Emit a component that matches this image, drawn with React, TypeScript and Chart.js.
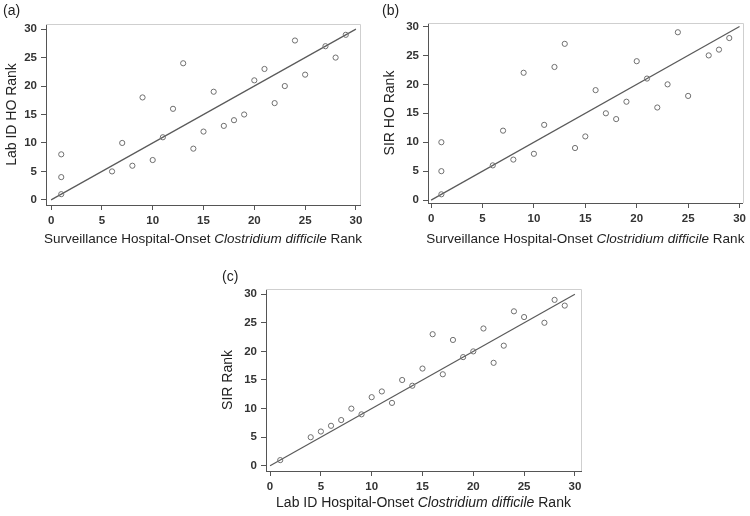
import React, { useEffect, useRef } from "react";
import { Chart, registerables } from "chart.js";

Chart.register(...registerables);

// ---- data ----
const surveillanceRankAB = [1, 1, 1, 6, 7, 8, 9, 10, 11, 12, 13, 14, 15, 16, 17, 18, 19, 20, 21, 22, 23, 24, 25, 27, 28, 29];
const labIdRankA = [1, 4, 8, 5, 10, 6, 18, 7, 11, 16, 24, 9, 12, 19, 13, 14, 15, 21, 23, 17, 20, 28, 22, 27, 25, 29];
const sirHoRankB = [1, 5, 10, 6, 12, 7, 22, 8, 13, 23, 27, 9, 11, 19, 15, 14, 17, 24, 21, 16, 20, 29, 18, 25, 26, 28];
const labIdRankC = [1, 4, 5, 6, 7, 8, 9, 10, 11, 12, 13, 14, 15, 16, 17, 18, 19, 20, 21, 22, 23, 24, 25, 27, 28, 29];
const sirRankC = [1, 5, 6, 7, 8, 10, 9, 12, 13, 11, 15, 14, 17, 23, 16, 22, 19, 20, 24, 18, 21, 27, 26, 25, 29, 28];
const identityLineX = [0, 30];
const axisTicks = [0, 5, 10, 15, 20, 25, 30];

const FONT = '"Liberation Sans", Arial, sans-serif';

type Part = { text: string; italic?: boolean };

const framePlugin = {
  id: "frame",
  afterDraw(chart: any, _args: any, opts: any) {
    const { ctx, chartArea } = chart;
    const { left, top, right, bottom } = chartArea;
    ctx.save();
    ctx.strokeStyle = "#cfcfcf";
    ctx.lineWidth = 1;
    ctx.beginPath();
    ctx.moveTo(left, Math.round(top) + 0.5);
    ctx.lineTo(Math.round(right) + 0.5, Math.round(top) + 0.5);
    ctx.lineTo(Math.round(right) + 0.5, bottom);
    ctx.stroke();

    ctx.fillStyle = "#222";
    ctx.textBaseline = "middle";
    ctx.textAlign = "left";
    ctx.font = `14px ${FONT}`;
    ctx.fillText(opts.label, opts.labelX, opts.labelY);

    const parts: Part[] = opts.titleParts;
    const size = opts.titleSize;
    const fontFor = (p: Part) => `${p.italic ? "italic " : ""}${size}px ${FONT}`;
    let total = 0;
    const widths = parts.map((p) => {
      ctx.font = fontFor(p);
      const w = ctx.measureText(p.text).width;
      total += w;
      return w;
    });
    let x = (left + right) / 2 - total / 2 + (opts.titleShift || 0);
    parts.forEach((p, i) => {
      ctx.font = fontFor(p);
      ctx.fillText(p.text, x, opts.titleY);
      x += widths[i];
    });
    ctx.restore();
  },
};

type PanelProps = {
  left: number;
  top: number;
  width: number;
  height: number;
  xs: number[];
  ys: number[];
  yTitle: string;
  titleParts: Part[];
  label: string;
  labelX: number;
  labelY: number;
  titleY: number;
  titleSize: number;
  yAxisWidth: number;
  padTop: number;
  padRight: number;
  plotBottom: number;
  xRange: [number, number];
  yRange: [number, number];
  yTitlePad: number;
};

function Panel(p: PanelProps) {
  const ref = useRef<HTMLCanvasElement>(null);
  useEffect(() => {
    const points = p.xs.map((x, i) => ({ x, y: p.ys[i] }));
    const line = identityLineX.map((v) => ({ x: v, y: v }));
    const setTicks = (scale: any) => {
      scale.ticks = axisTicks.map((v) => ({ value: v }));
    };
    const chart = new Chart(ref.current as HTMLCanvasElement, {
      type: "scatter",
      data: {
        datasets: [
          {
            type: "line",
            data: line,
            borderColor: "#5a5a5a",
            borderWidth: 1.2,
            pointRadius: 0,
            fill: false,
            order: 1,
          } as any,
          {
            type: "scatter",
            data: points,
            pointRadius: 2.6,
            pointBorderWidth: 1,
            borderColor: "#6f6f6f",
            backgroundColor: "rgba(0,0,0,0)",
            order: 0,
          } as any,
        ],
      },
      options: {
        responsive: false,
        animation: false,
        devicePixelRatio: 1,
        layout: { padding: { top: p.padTop, right: p.padRight, left: 0, bottom: 0 } },
        plugins: {
          legend: { display: false },
          tooltip: { enabled: false },
          frame: {
            label: p.label,
            labelX: p.labelX,
            labelY: p.labelY,
            titleY: p.titleY,
            titleParts: p.titleParts,
            titleSize: p.titleSize,
          },
        } as any,
        scales: {
          x: {
            type: "linear",
            min: p.xRange[0],
            max: p.xRange[1],
            afterBuildTicks: setTicks,
            afterFit: (scale: any) => {
              scale.height = p.height - p.plotBottom;
            },
            grid: { drawOnChartArea: false, drawTicks: true, tickLength: 5, color: "#555" },
            border: { display: true, color: "#555" },
            ticks: { color: "#333", padding: 4, font: { family: FONT, size: 11.5, weight: "bold" } },
          },
          y: {
            type: "linear",
            min: p.yRange[0],
            max: p.yRange[1],
            afterBuildTicks: setTicks,
            afterFit: (scale: any) => {
              scale.width = p.yAxisWidth;
            },
            grid: { drawOnChartArea: false, drawTicks: true, tickLength: 5, color: "#555" },
            border: { display: true, color: "#555" },
            ticks: { color: "#333", padding: 4, font: { family: FONT, size: 11.5, weight: "bold" } },
            title: {
              display: true,
              text: p.yTitle,
              color: "#222",
              font: { family: FONT, size: 14 },
              padding: { top: p.yTitlePad, bottom: 0 },
            },
          },
        },
      },
      plugins: [framePlugin],
    });
    return () => chart.destroy();
  }, []);
  return (
    <canvas
      ref={ref}
      width={p.width}
      height={p.height}
      style={{ position: "absolute", left: p.left, top: p.top, width: p.width, height: p.height }}
    />
  );
}

export default function App() {
  useEffect(() => {
    document.body.style.margin = "0";
    document.body.style.background = "#fff";
  }, []);
  const survTitle: Part[] = [
    { text: "Surveillance Hospital-Onset " },
    { text: "Clostridium difficile", italic: true },
    { text: " Rank" },
  ];
  const labTitle: Part[] = [
    { text: "Lab ID Hospital-Onset " },
    { text: "Clostridium difficile", italic: true },
    { text: " Rank" },
  ];
  return (
    <div style={{ position: "relative", width: 750, height: 516, background: "#fff" }}>
      <Panel
        left={0}
        top={0}
        width={375}
        height={250}
        xs={surveillanceRankAB}
        ys={labIdRankA}
        yTitle="Lab ID HO Rank"
        titleParts={survTitle}
        label="(a)"
        labelX={3}
        labelY={11}
        titleY={239}
        titleSize={13.5}
        yAxisWidth={46}
        padTop={24}
        padRight={15}
        plotBottom={205}
        xRange={[-0.5, 30.4]}
        yRange={[-0.9, 30.9]}
        yTitlePad={4}
      />
      <Panel
        left={375}
        top={0}
        width={375}
        height={250}
        xs={surveillanceRankAB}
        ys={sirHoRankB}
        yTitle="SIR HO Rank"
        titleParts={survTitle}
        label="(b)"
        labelX={7}
        labelY={11}
        titleY={239}
        titleSize={13.5}
        yAxisWidth={53}
        padTop={23}
        padRight={6}
        plotBottom={203}
        xRange={[-0.3, 30.3]}
        yRange={[-0.5, 30.6]}
        yTitlePad={7}
      />
      <Panel
        left={200}
        top={255}
        width={400}
        height={261}
        xs={labIdRankC}
        ys={sirRankC}
        yTitle="SIR Rank"
        titleParts={labTitle}
        label="(c)"
        labelX={22}
        labelY={22}
        titleY={248}
        titleSize={14}
        yAxisWidth={66}
        padTop={34}
        padRight={19}
        plotBottom={216}
        xRange={[-0.4, 30.6]}
        yRange={[-0.9, 30.9]}
        yTitlePad={20}
      />
    </div>
  );
}
